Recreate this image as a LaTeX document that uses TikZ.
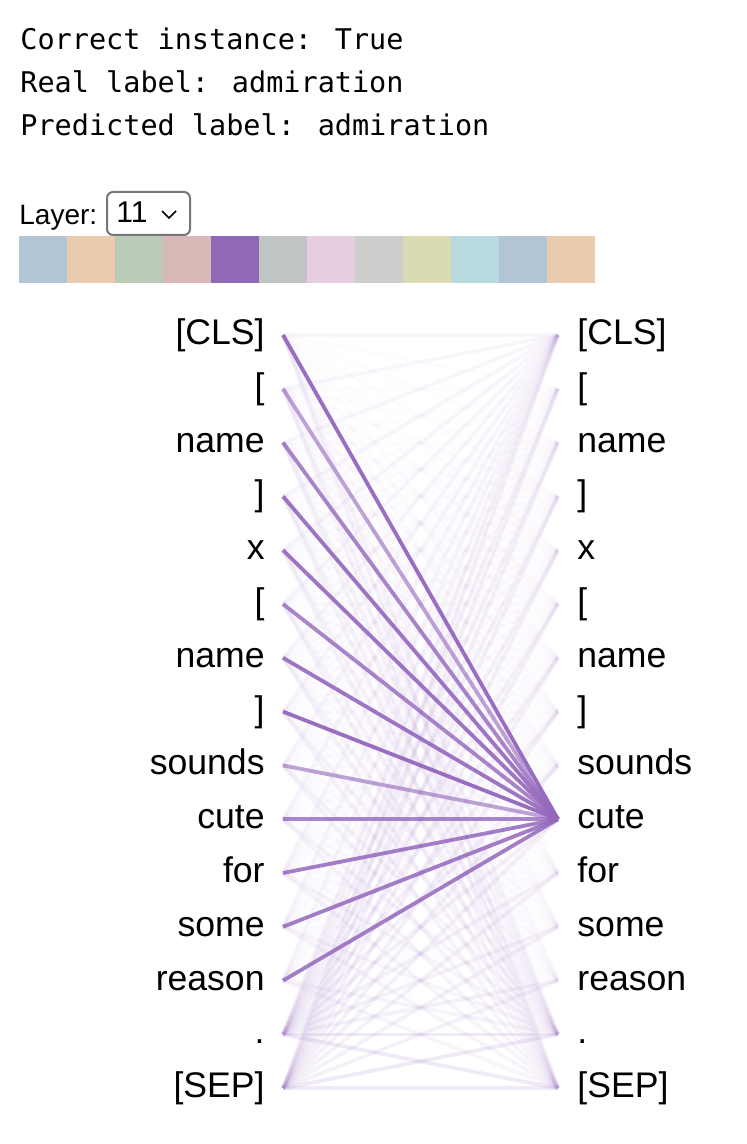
\documentclass[tikz,border=0pt]{standalone}
\usepackage{fontspec}
\newfontfamily\tokfont{Liberation Sans}
\newfontfamily\codefont{DejaVu Sans Mono}
\usetikzlibrary{positioning}
\definecolor{headblue}{HTML}{B2C5D4}
\definecolor{headorange}{HTML}{E9CCAE}
\definecolor{headgreen}{HTML}{BACCB8}
\definecolor{headred}{HTML}{D9B9B7}
\definecolor{headpurple}{HTML}{8F69B6}
\definecolor{headbrown}{HTML}{C0C4C5}
\definecolor{headpink}{HTML}{E6CEE0}
\definecolor{headgray}{HTML}{CCCCCC}
\definecolor{headolive}{HTML}{DADAB3}
\definecolor{headcyan}{HTML}{B7DADF}
\definecolor{attnpurple}{HTML}{9467BD}
\definecolor{selgray}{HTML}{767676}
\tikzset{%
  tok/.style={inner sep=0pt, font=\tokfont\fontsize{17.8}{21}\selectfont},
  info/.style={inner sep=0pt, anchor=base west, font=\codefont\fontsize{14.25}{17}\selectfont},
  headcell/.style={inner sep=0pt, minimum width=24pt, minimum height=23.5pt},
  attn/.style={draw=attnpurple, line width=1.9pt}%
}

\begin{document}
\begin{tikzpicture}[
    x=0.5pt, y=-0.5pt,
    selbox/.style={
        draw=selgray,
        line width=1pt,
        rounded corners=3pt,
        minimum width=41.5pt,
        minimum height=21.5pt,
        inner sep=0pt
    }
]
\useasboundingbox (0,0) rectangle (746,1144);

% Instance info
\node[info] (correct) at (20,50) {Correct instance: True};
\node[info] (real) at (20,93) {Real label: admiration};
\node[info] (pred) at (20,136) {Predicted label: admiration};

% Layer selector
\node[inner sep=0pt, anchor=base west, font=\tokfont\fontsize{14}{16}\selectfont] (layer) at (19,225) {Layer:};
\node[selbox] (layersel) at (148.5,213.5) {};
\node[inner sep=0pt, anchor=base west, font=\tokfont\fontsize{15}{17}\selectfont] (layerval) at (116,223) {11};
\draw[line width=0.75pt] (162,211) -- (169,218) -- (176,211);

% Head colour strip
\foreach \c [count=\i from 0] in {headblue,headorange,headgreen,headred,headpurple,headbrown,headpink,headgray,headolive,headcyan,headblue,headorange}
  \node[headcell, fill=\c] (head\i) at (43+48*\i,259.5) {};

% Tokens (left = attending, right = attended)
\foreach \t [count=\i from 0] in {{[CLS]},{[},{name},{]},{x},{[},{name},{]},{sounds},{cute},{for},{some},{reason},{.},{[SEP]}} {
  \node[tok, anchor=base east] (ltok\i) at (265,344.5+53.8*\i) {\t};
  \node[tok, anchor=base west] (rtok\i) at (577,344.5+53.8*\i) {\t};
  \coordinate (lend\i) at (283,335+53.8*\i);
  \coordinate (rend\i) at (558,335+53.8*\i);
}

% Faint attention
\foreach \i in {0,...,14}
  \foreach \j in {0,...,14}
    \draw[attn, draw opacity=0.02] (lend\i) -- (rend\j);
\foreach \i in {0,...,12} {
  \draw[attn, draw opacity=0.04] (lend\i) -- (rend0);
  \draw[attn, draw opacity=0.05] (lend\i) -- (rend13);
  \draw[attn, draw opacity=0.05] (lend\i) -- (rend14);
}
\foreach \j in {0,...,12} {
  \draw[attn, draw opacity=0.07] (lend13) -- (rend\j);
  \draw[attn, draw opacity=0.07] (lend14) -- (rend\j);
}
\draw[attn, draw opacity=0.12] (lend13) -- (rend13);
\draw[attn, draw opacity=0.12] (lend14) -- (rend14);
\draw[attn, draw opacity=0.12] (lend13) -- (rend14);
\draw[attn, draw opacity=0.12] (lend14) -- (rend13);

% Strong attention into "cute"
\foreach \i/\o in {0/0.95,1/0.6,2/0.8,3/0.9,4/0.9,5/0.8,6/0.9,7/0.95,8/0.6,9/0.8,10/0.85,11/0.85,12/0.85}
  \draw[attn, draw opacity=\o] (lend\i) -- (rend9);

\end{tikzpicture}
\end{document}
